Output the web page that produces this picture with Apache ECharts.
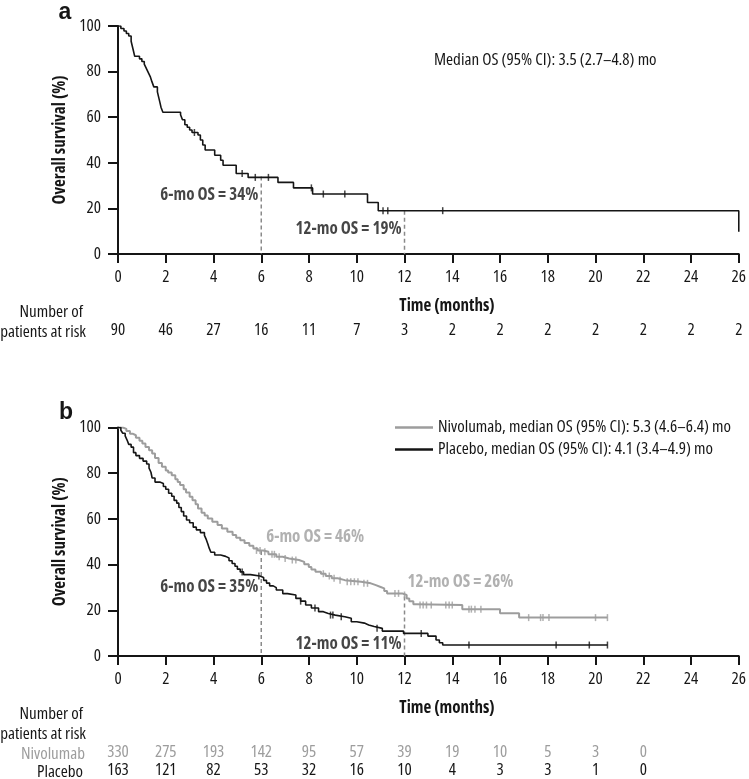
<!DOCTYPE html>
<html>
<head>
<meta charset="utf-8">
<script src="https://cdn.jsdelivr.net/npm/echarts@6/dist/echarts.min.js"></script>
<style>
html,body{margin:0;padding:0;background:#fff;}
#chart{width:749px;height:779px;}
</style>
</head>
<body>
<div id="chart"></div>
<script>
// ---------- data ----------
// Panel a: single arm KM (month, OS %)
const osA = [[0,100],[0.12,98.9],[0.25,97.8],[0.35,96.7],[0.45,95.6],[0.55,93.3],[0.6,91.1],[0.65,88.9],[0.7,86.7],
  [0.9,85.6],[1.0,84.4],[1.1,83.3],[1.15,82.2],[1.2,81.1],[1.25,80.0],[1.3,78.9],[1.35,77.8],[1.42,75.6],[1.5,73.3],
  [1.65,71.1],[1.7,68.9],[1.75,66.7],[1.8,64.4],[1.88,62.2],[2.62,61.1],[2.7,58.9],[2.8,56.7],[2.9,55.6],[3.0,54.4],
  [3.1,53.3],[3.35,52.2],[3.45,50.0],[3.55,47.8],[3.65,45.6],[4.05,43.3],[4.3,41.1],[4.4,38.9],[4.95,35.3],[5.45,33.6],
  [6.7,31.4],[7.35,29.0],[8.15,26.3],[10.45,22.6],[10.9,19.0],[26,9.8]];
const censA = [[3.2,53.3],[5.2,35.3],[5.75,33.6],[6.3,33.6],[8.1,29.0],[8.6,26.3],[9.5,26.3],[11.1,19],[11.3,19],[13.6,19]];
const msA = [[6,34],[12,19]];
const riskA = [90,46,27,16,11,7,3,2,2,2,2,2,2,2];

// Panel b: Nivolumab vs Placebo
const osNivo = [[0,100],[0.2,99.4],[0.35,98.5],[0.5,97.3],[0.61,96.6],[0.75,95.5],[0.9,94.2],[1.02,93.0],[1.15,91.5],
  [1.3,90.0],[1.43,88.6],[1.55,86.7],[1.7,84.5],[1.84,82.8],[2.0,81.2],[2.1,80.3],[2.25,79.1],[2.4,77.3],[2.5,76.1],
  [2.6,74.8],[2.75,73.0],[2.85,71.5],[3.0,69.7],[3.12,68.2],[3.25,66.4],[3.35,64.6],[3.5,62.7],[3.63,61.5],[3.76,60.2],
  [3.95,58.8],[4.17,57.3],[4.35,55.8],[4.58,54.4],[4.8,53.0],[4.95,51.8],[5.12,50.7],[5.3,49.4],[5.5,48.2],[5.67,47.1],
  [5.85,46.2],[6.08,45.6],[6.3,44.5],[6.63,43.4],[6.9,42.7],[7.17,42.0],[7.58,41.2],[7.8,40.1],[7.99,39.0],[8.1,37.9],
  [8.27,36.9],[8.5,36.0],[8.7,35.0],[8.95,34.0],[9.2,33.2],[9.5,32.5],[10.18,31.8],[10.59,31.0],[10.8,30.2],[11.0,29.6],
  [11.15,28.5],[11.27,27.4],[11.9,26.7],[12.09,25.2],[12.2,24.0],[12.37,22.7],[12.5,22.3],[14.42,20.5],[16.0,18.7],
  [16.8,16.8],[20.5,16.8]];
const censNivo = [[5.8,46.2],[5.95,46.2],[6.15,45.6],[6.45,44.5],[6.55,44.5],[6.75,43.4],[7.0,42.7],[7.3,42.0],[7.45,42.0],
  [8.6,36.0],[8.85,35.0],[9.05,34.0],[9.3,33.2],[9.6,32.5],[9.75,32.5],[9.9,32.5],[10.05,32.5],[10.3,31.8],[10.45,31.8],
  [11.6,27.4],[11.75,27.4],[12.0,26.7],[12.65,22.3],[12.78,22.3],[12.92,22.3],[13.12,22.3],[13.73,22.3],[13.87,22.3],
  [14.0,22.3],[14.7,20.5],[14.8,20.5],[14.95,20.5],[15.2,20.5],[17.2,16.8],[17.7,16.8],[17.8,16.8],[18.05,16.8],
  [20.0,16.8],[20.5,16.8]];
const osPlac = [[0,100],[0.12,98.8],[0.2,97.5],[0.3,96.3],[0.38,94.5],[0.45,92.6],[0.55,91.4],[0.65,89.0],[0.75,87.7],
  [0.9,86.5],[1.05,85.3],[1.2,84.0],[1.3,82.2],[1.38,80.4],[1.43,77.9],[1.55,76.1],[1.75,75.5],[1.9,74.2],[2.0,73.0],
  [2.12,71.2],[2.25,69.9],[2.35,68.1],[2.46,66.9],[2.55,65.0],[2.65,63.2],[2.75,61.3],[2.87,59.5],[3.0,58.3],[3.15,56.4],
  [3.28,55.2],[3.45,54.0],[3.62,52.8],[3.7,50.9],[3.76,49.1],[3.82,47.2],[3.89,45.4],[4.05,44.2],[4.3,43.6],[4.51,42.9],
  [4.65,41.7],[4.78,40.5],[4.9,39.3],[5.0,38.0],[5.12,36.8],[5.26,35.6],[5.55,35.0],[5.94,34.4],[6.1,33.1],[6.22,31.9],
  [6.35,30.7],[6.5,29.9],[6.63,28.9],[6.9,27.3],[7.1,26.7],[7.45,25.2],[7.65,24.0],[7.86,22.3],[8.1,21.0],[8.4,19.4],
  [8.6,18.6],[8.81,17.9],[9.1,17.2],[9.5,16.5],[9.77,15.0],[10.0,14.4],[10.32,13.6],[10.5,12.9],[10.73,12.1],[11.07,10.9],
  [11.96,9.9],[12.98,8.7],[13.32,7.0],[13.46,5.8],[13.6,4.8],[20.5,4.8]];
const censPlac = [[5.2,36.8],[5.9,35.0],[7.65,24.0],[8.25,21.0],[8.9,17.9],[9.0,17.9],[9.35,17.2],[10.85,12.1],[12.7,9.9],
  [14.7,4.8],[18.35,4.8],[19.74,4.8],[20.5,4.8]];
const msNivo = [[6,46],[12,26]];
const msPlac = [[6,35],[12,11]];
const riskNivo = [330,275,193,142,95,57,39,19,10,5,3,0];
const riskPlac = [163,121,82,53,32,16,10,4,3,3,1,0];

const nameNivo = 'Nivolumab, median OS (95% CI): 5.3 (4.6\u20136.4) mo';
const namePlac = 'Placebo, median OS (95% CI): 4.1 (3.4\u20134.9) mo';
const medianA = 'Median OS (95% CI): 3.5 (2.7\u20134.8) mo';

// ---------- font selection (condensed face closest to the reference width) ----------
const TARGET_W = 222; // width of medianA text in reference
const cands = [
  ['', "'Liberation Sans Narrow'"],
  ['condensed', "'Open Sans'"],
  ['condensed', "'Noto Sans'"],
  ['semi-condensed', "'Noto Sans'"],
  ['condensed', "Roboto"],
  ['', "'Roboto Condensed'"],
  ['', "'DejaVu Sans Condensed'"],
  ['condensed', "'DejaVu Sans'"]
];
let FSTYLE = '', FAMILY = "'DejaVu Sans Condensed'", bestW = 272;
(function pick() {
  const ctx = document.createElement('canvas').getContext('2d');
  let best = Infinity;
  for (const c of cands) {
    ctx.font = '10px monospace';
    ctx.font = (c[0] ? c[0] + ' ' : '') + '16px ' + c[1] + ', monospace';
    if (ctx.font.indexOf('16px') < 0) continue;
    const w = ctx.measureText(medianA).width;
    if (Math.abs(w - TARGET_W) < best) { best = Math.abs(w - TARGET_W); FSTYLE = c[0]; FAMILY = c[1]; bestW = w; }
  }
})();
const FONT = FAMILY + ", 'DejaVu Sans Condensed', sans-serif";
const FS = Math.max(14, Math.min(17, Math.round(16 * TARGET_W / bestW * 2) / 2));

const BLACK = '#151515';
const GRAY = '#9d9d9d';
const TXT = '#161616';

function ts(extra) {
  return Object.assign({fontFamily:FONT, fontSize:FS, fontStyle:FSTYLE || 'normal', color:TXT}, extra || {});
}
function mainX(gi) {
  return {type:'value', gridIndex:gi, min:0, max:26, interval:2,
    axisLine:{show:true, onZero:false, lineStyle:{color:BLACK, width:2}},
    axisTick:{show:true, length:9, lineStyle:{color:BLACK, width:2}},
    axisLabel:ts({margin:15}),
    splitLine:{show:false}};
}
function riskX(gi, arr, offset, color) {
  return {type:'value', gridIndex:gi, min:0, max:26, interval:2, position:'bottom', offset:offset,
    axisLine:{show:false}, axisTick:{show:false}, splitLine:{show:false},
    axisLabel:ts({margin:7, color:color,
      formatter: v => { const i = Math.round(v/2); return i < arr.length ? String(arr[i]) : ''; }})};
}
function mainY(gi) {
  return {type:'value', gridIndex:gi, min:0, max:100, interval:20,
    name:'Overall survival (%)', nameLocation:'middle', nameGap:32,
    nameTextStyle:ts({fontWeight:'bold'}),
    axisLine:{show:true, onZero:false, lineStyle:{color:BLACK, width:2}},
    axisTick:{show:true, length:10, lineStyle:{color:BLACK, width:2}},
    axisLabel:ts({margin:17}),
    splitLine:{show:false}};
}
function km(name, data, color, xi, yi, w) {
  return {type:'line', name:name, xAxisIndex:xi, yAxisIndex:yi, data:data, step:'end',
    symbol:'none', showSymbol:false, lineStyle:{color:color, width:w}, itemStyle:{color:color}, z:3};
}
function cens(data, color, xi, yi) {
  return {type:'scatter', xAxisIndex:xi, yAxisIndex:yi, data:data, symbol:'rect',
    symbolSize:[1.5,7], itemStyle:{color:color}, z:4, silent:true};
}
function dash(t, top, xi, yi) {
  return {type:'line', xAxisIndex:xi, yAxisIndex:yi, data:[[t,top],[t,0]], symbol:'none',
    lineStyle:{color:'#8a8a8a', width:1.5, type:[4,3]}, z:2, silent:true};
}
function msLabels(ms, color, xi, yi, place) {
  return {type:'scatter', xAxisIndex:xi, yAxisIndex:yi, symbolSize:0, z:5, silent:true,
    data: ms.map((p, i) => ({value:p,
      label:Object.assign(ts({fontWeight:'bold', color:color}), {show:true, position:place[i].pos,
        distance:place[i].d, offset:place[i].off,
        formatter: p[0] + '-mo OS = ' + p[1] + '%'})}))};
}
function txt(text, x, y, align, opts) {
  opts = opts || {};
  const st = opts.plain ? '' : (FSTYLE ? FSTYLE + ' ' : '');
  return {type:'text', x:x, y:y, silent:true, style:{text:text, x:0, y:0,
    font:st + (opts.weight||'normal') + ' ' + (opts.size||FS) + 'px ' + (opts.family||FONT),
    fill:opts.color||TXT, align:align, verticalAlign:'middle', textAlign:align, textVerticalAlign:'middle'}};
}

const chart = echarts.init(document.getElementById('chart'), null, {renderer:'canvas'});
chart.setOption({
  animation:false,
  backgroundColor:'#fff',
  grid:[
    {left:118, top:26, width:628, height:228},
    {left:118, top:427.5, width:628, height:228.5}
  ],
  xAxis:[
    mainX(0),
    riskX(0, riskA, 61, TXT),
    mainX(1),
    riskX(1, riskNivo, 81, GRAY),
    riskX(1, riskPlac, 99, TXT)
  ],
  yAxis:[mainY(0), mainY(1)],
  legend:{
    orient:'vertical', left:395, top:419, padding:0, itemWidth:38, itemHeight:2.5, itemGap:5,
    icon:'rect',
    data:[nameNivo, namePlac],
    textStyle:ts({padding:[0,0,0,0]})
  },
  series:[
    dash(6, msA[0][1], 0, 0),
    dash(12, msA[1][1], 0, 0),
    km('Single arm', osA, BLACK, 0, 0, 1.6),
    cens(censA, BLACK, 0, 0),
    msLabels(msA, TXT, 0, 0, [
      {pos:'left', d:3, off:[0,19]},
      {pos:'left', d:3, off:[0,18]}
    ]),
    dash(6, msNivo[0][1], 2, 1),
    dash(12, msNivo[1][1], 2, 1),
    km(nameNivo, osNivo, GRAY, 2, 1, 2),
    cens(censNivo, GRAY, 2, 1),
    km(namePlac, osPlac, BLACK, 2, 1, 1.6),
    cens(censPlac, BLACK, 2, 1),
    msLabels(msNivo, GRAY, 2, 1, [
      {pos:'right', d:5, off:[0,-14]},
      {pos:'right', d:3, off:[0,-14]}
    ]),
    msLabels(msPlac, TXT, 2, 1, [
      {pos:'left', d:3, off:[0,11]},
      {pos:'left', d:3, off:[0,13]}
    ])
  ],
  graphic:[
    txt('a', 65, 13, 'center', {weight:'bold', size:23, plain:true, family:"'Liberation Sans',Arial,sans-serif"}),
    txt('b', 66, 413, 'center', {weight:'bold', size:23, plain:true, family:"'Liberation Sans',Arial,sans-serif"}),
    txt(medianA, 434, 60, 'left'),
    txt('Time (months)', 447, 306, 'center', {weight:'bold'}),
    txt('Time (months)', 447, 708, 'center', {weight:'bold'}),
    txt('Number of', 83, 312, 'right'),
    txt('patients at risk', 86, 332, 'right'),
    txt('Number of', 83, 714, 'right'),
    txt('patients at risk', 86, 734, 'right'),
    txt('Nivolumab', 85, 754, 'right', {color:GRAY}),
    txt('Placebo', 83, 772, 'right')
  ]
});
</script>
</body>
</html>
